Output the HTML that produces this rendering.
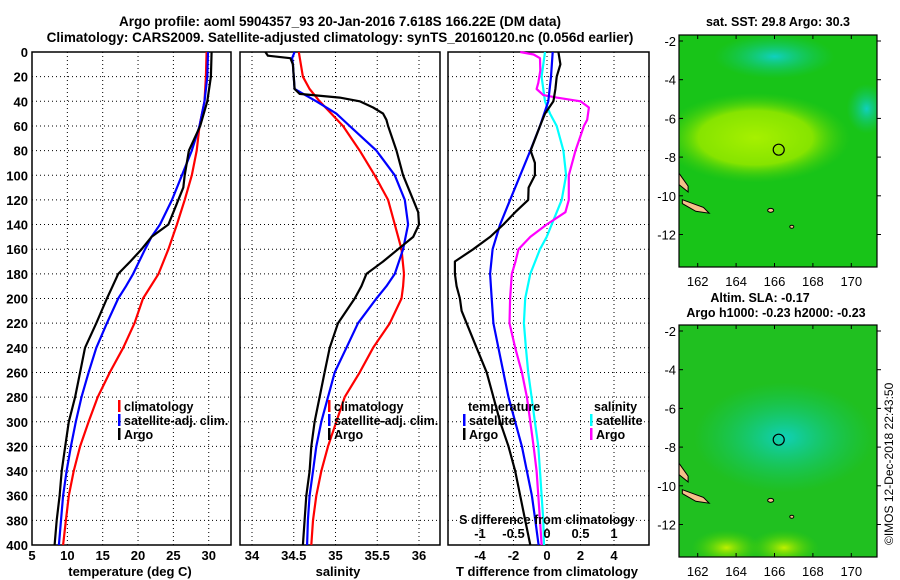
<!DOCTYPE html>
<html><head><meta charset="utf-8"><style>
body{margin:0;background:#fff}
svg{display:block;font-family:"Liberation Sans",Arial,sans-serif;font-weight:bold}
</style></head><body>
<svg id="fig" width="900" height="580" viewBox="0 0 900 580">
<defs>
<radialGradient id="sstBlob" cx="0.5" cy="0.5" r="0.5"><stop offset="0" stop-color="#a6f000"/><stop offset="0.6" stop-color="#86e400"/><stop offset="1" stop-color="#3ccc10" stop-opacity="0"/></radialGradient>
<radialGradient id="sstCyan" cx="0.5" cy="0.5" r="0.5"><stop offset="0" stop-color="#10d0c0"/><stop offset="1" stop-color="#10c870" stop-opacity="0"/></radialGradient>
<radialGradient id="slaCyan" cx="0.5" cy="0.5" r="0.5"><stop offset="0" stop-color="#10d0b8"/><stop offset="1" stop-color="#10c878" stop-opacity="0"/></radialGradient>
<radialGradient id="slaYel" cx="0.5" cy="0.5" r="0.5"><stop offset="0" stop-color="#c0f000"/><stop offset="1" stop-color="#40d000" stop-opacity="0"/></radialGradient>
</defs>
<text x="340" y="26" text-anchor="middle" font-size="13.5">Argo profile: aoml 5904357_93 20-Jan-2016 7.618S 166.22E (DM data)</text>
<text x="340" y="42" text-anchor="middle" font-size="13.5">Climatology: CARS2009. Satellite-adjusted climatology: synTS_20160120.nc (0.056d earlier)</text>
<g id="p1"></g>
<g id="p2"></g>
<g id="p3"></g>
<g id="m1"></g>
<g id="m2"></g>
<text transform="translate(893,545) rotate(-90)" font-size="12" font-weight="normal">©IMOS 12-Dec-2018 22:43:50</text>
</svg>
<script>
const depths=[0,20,40,60,80,100,120,140,160,180,200,220,240,260,280,300,320,340,360,380,400];
const tClim=[29.7,29.6,29.4,28.7,28.3,27.6,26.6,25.5,24.3,22.9,20.7,19.5,17.9,16.0,14.3,13.0,11.8,10.9,10.2,9.8,9.4];
const tSatDepths=[0,20,40,60,80,100,120,140,150,160,180,190,200,220,240,260,280,300,320,340,360,380,400];
const tSat=[29.9,29.8,29.4,28.7,27.6,26.2,24.8,23.1,21.9,21.0,19.3,18.3,17.2,15.6,14.1,13.0,12.0,11.2,10.5,9.9,9.4,9.1,8.8];
const tArgoDepths=[0,20,40,60,80,100,110,120,130,140,150,160,170,180,190,200,220,240,260,280,300,320,340,360,380,400];
const tArgo=[30.4,30.3,29.8,28.8,27.2,26.6,26.4,25.7,25.0,24.3,21.9,20.5,18.9,17.2,16.4,15.6,14.1,12.5,11.8,11.1,10.2,9.7,9.2,8.9,8.5,8.2];
const sClimDepths=[0,20,30,40,60,80,100,120,140,160,180,190,200,220,240,260,280,300,320,340,360,380,400];
const sClim=[34.56,34.61,34.69,34.81,35.09,35.29,35.47,35.63,35.71,35.79,35.82,35.81,35.79,35.65,35.45,35.29,35.11,35.01,34.91,34.83,34.77,34.73,34.71];
const sSatDepths=[0,5,10,30,40,50,60,80,100,120,140,160,180,190,200,220,240,260,280,300,320,340,360,380,400];
const sSat=[34.51,34.48,34.49,34.51,34.77,35.01,35.17,35.49,35.71,35.83,35.87,35.81,35.71,35.61,35.49,35.27,35.13,34.99,34.91,34.83,34.77,34.73,34.69,34.67,34.66];
const sArgoDepths=[0,3,5,10,30,34,37,40,45,50,55,60,80,100,120,130,140,150,160,170,180,190,200,220,240,260,280,300,320,340,360,380,400];
const sArgo=[34.16,34.19,34.46,34.49,34.51,34.57,35.05,35.29,35.45,35.57,35.61,35.63,35.73,35.81,35.93,35.99,36.0,35.93,35.75,35.57,35.37,35.31,35.23,35.03,34.93,34.87,34.81,34.75,34.71,34.69,34.65,34.63,34.61];
const dTArgoDepths=[0,10,20,30,40,50,60,70,80,90,100,110,120,130,140,150,160,170,180,190,200,210,220,240,260,280,300,320,340,360,380,400];
const dTArgo=[0.68,0.8,0.58,0.5,0.38,-0.12,-0.42,-0.7,-0.98,-0.72,-0.72,-1.1,-1.12,-1.9,-2.6,-3.4,-4.4,-5.5,-5.5,-5.4,-5.2,-5.1,-4.8,-4.2,-3.6,-3.2,-2.8,-2.3,-1.9,-1.6,-1.3,-1.0];
const dTSat=[0.34,0.24,0.08,-0.42,-1.0,-1.6,-2.2,-2.8,-3.25,-3.4,-3.3,-3.2,-2.9,-2.6,-2.3,-1.9,-1.5,-1.2,-0.9,-0.7,-0.5];
const dSSatDepths=[0,20,40,50,60,80,100,120,140,150,160,180,200,220,240,260,280,300,320,340,360,380,400];
const dSSat=[-0.03,-0.08,-0.03,0.045,0.145,0.245,0.285,0.22,0.07,-0.005,-0.105,-0.25,-0.325,-0.345,-0.315,-0.28,-0.23,-0.18,-0.13,-0.105,-0.08,-0.055,-0.045];
const dSArgoDepths=[0,2,5,15,25,30,35,37,40,45,55,60,80,100,120,130,140,150,160,170,180,200,220,240,260,280,300,320,340,360,380,400];
const dSArgo=[-0.4,-0.2,-0.105,-0.1,-0.13,-0.155,-0.055,0.145,0.5,0.625,0.6,0.55,0.425,0.325,0.325,0.275,-0.005,-0.25,-0.425,-0.47,-0.525,-0.55,-0.56,-0.475,-0.375,-0.3,-0.25,-0.2,-0.155,-0.13,-0.105,-0.08];
const tTicks=[5,10,15,20,25,30];
const sTicks=[34,34.5,35,35.5,36];
const dTTicks=[-4,-2,0,2,4];
const dSTicks=[-1,-0.5,0,0.5,1];
const depthTicks=[0,20,40,60,80,100,120,140,160,180,200,220,240,260,280,300,320,340,360,380,400];
const lonTicks=[162,164,166,168,170];
const latTicks=[-2,-4,-6,-8,-10,-12];
const argoLon=166.22, argoLat=-7.618;

const NS='http://www.w3.org/2000/svg';
function el(parent,tag,attrs,txt){const e=document.createElementNS(NS,tag);for(const k in attrs)e.setAttribute(k,attrs[k]);if(txt!==undefined)e.textContent=txt;parent.appendChild(e);return e;}
const Y0=52,Y1=545;
const yScale=d=>Y0+(d/400)*(Y1-Y0);
function lin(d0,d1,r0,r1){return v=>r0+(v-d0)/(d1-d0)*(r1-r0);}

function panel(g,x0,x1,xs,xticks,showY){
  // grid
  xticks.forEach(t=>{const x=xs(t);if(x>x0+1&&x<x1-1){const l=el(g,'line',{x1:x,x2:x,y1:Y0,y2:Y1,stroke:'#000','stroke-width':1,'stroke-dasharray':'1,3'});}});
  depthTicks.forEach(d=>{const y=yScale(d);if(d>0&&d<400){const l=el(g,'line',{x1:x0,x2:x1,y1:y,y2:y,stroke:'#000','stroke-width':1,'stroke-dasharray':'1,3'});}
    if(showY){const t=el(g,'text',{x:x0-4,y:y+5,'text-anchor':'end','font-size':13},String(d));}});
  const r=el(g,'rect',{x:x0,y:Y0,width:x1-x0,height:Y1-Y0,fill:'none',stroke:'#000','stroke-width':1.5});
  
}
function line(g,xs,vals,ds,color,name){
  const pts=vals.map((v,i)=>xs(v).toFixed(1)+','+yScale(ds[i]).toFixed(1)).join(' ');
  const p=el(g,'polyline',{points:pts,fill:'none',stroke:color,'stroke-width':2.2,'stroke-linejoin':'round'});
  
}
function legend(g,x,y,color,label){
  const m=el(g,'rect',{x:x,y:y-11,width:2.5,height:12,fill:color});
  
  const t=el(g,'text',{x:x+6,y:y,'font-size':12.5},label);
  
}
function xlabels(g,xs,ticks,y,fmt){ticks.forEach(t=>{const e=el(g,'text',{x:xs(t),y:y,'text-anchor':'middle','font-size':13},fmt?fmt(t):String(t));});}

// Panel 1
const p1=document.getElementById('p1');
const xT=lin(5,33.15,32,231);
panel(p1,32,231,xT,tTicks,true);
line(p1,xT,tClim,depths,'#f00','climatology-temp-line');
line(p1,xT,tSat,tSatDepths,'#00f','satellite-temp-line');
line(p1,xT,tArgo,tArgoDepths,'#000','argo-temp-line');
legend(p1,118,411,'#f00','climatology');legend(p1,118,425,'#00f','satellite-adj. clim.');legend(p1,118,439,'#000','Argo');
xlabels(p1,xT,tTicks,560);
let t=el(p1,'text',{x:130,y:576,'text-anchor':'middle','font-size':13},'temperature (deg C)');

// Panel 2
const p2=document.getElementById('p2');
const xS=lin(34,36,252,419);
panel(p2,240,440,xS,sTicks,false);
line(p2,xS,sClim,sClimDepths,'#f00','climatology-salinity-line');
line(p2,xS,sSat,sSatDepths,'#00f','satellite-salinity-line');
line(p2,xS,sArgo,sArgoDepths,'#000','argo-salinity-line');
legend(p2,328,411,'#f00','climatology');legend(p2,328,425,'#00f','satellite-adj. clim.');legend(p2,328,439,'#000','Argo');
xlabels(p2,xS,sTicks,560);
t=el(p2,'text',{x:338,y:576,'text-anchor':'middle','font-size':13},'salinity');

// Panel 3
const p3=document.getElementById('p3');
const xD=lin(0,4,547,614);
const xDS=v=>xD(v*4);
panel(p3,448,649,xD,dTTicks,false);
line(p3,xDS,dSSat,dSSatDepths,'#0ff','satellite-salinity-diff-line');
line(p3,xDS,dSArgo,dSArgoDepths,'#f0f','argo-salinity-diff-line');
line(p3,xD,dTSat,depths,'#00f','satellite-temp-diff-line');
line(p3,xD,dTArgo,dTArgoDepths,'#000','argo-temp-diff-line');
t=el(p3,'text',{x:468,y:411,'font-size':12.5},'temperature');
t=el(p3,'text',{x:594,y:411,'font-size':12.5},'salinity');
legend(p3,463,425,'#00f','satellite');legend(p3,463,439,'#000','Argo');
legend(p3,590,425,'#0ff','satellite');legend(p3,590,439,'#f0f','Argo');
t=el(p3,'text',{x:547,y:524,'text-anchor':'middle','font-size':12.5},'S difference from climatology');
xlabels(p3,xDS,dSTicks,538);
xlabels(p3,xD,dTTicks,560);
t=el(p3,'text',{x:547,y:576,'text-anchor':'middle','font-size':13},'T difference from climatology');

// Maps
function map(g,top,bottom,kind){
  const x0=679,x1=877;
  const lonS=lin(162,170,697.7,851.3);
  const latS=lin(-2,-12,top+6,top+6+193.5);
  const cp=el(g,'clipPath',{id:'clip'+kind});el(cp,'rect',{x:x0,y:top,width:x1-x0,height:bottom-top});
  const inner=el(g,'g',{'clip-path':'url(#clip'+kind+')'});
  if(kind==='sst'){
    el(inner,'rect',{x:x0,y:top,width:x1-x0,height:bottom-top,fill:'#18c418'});
    el(inner,'ellipse',{cx:lonS(165),cy:latS(-7),rx:95,ry:45,fill:'url(#sstBlob)'});
    el(inner,'ellipse',{cx:lonS(166),cy:latS(-2.8),rx:60,ry:22,fill:'url(#sstCyan)'});
    el(inner,'ellipse',{cx:lonS(170.8),cy:latS(-5.5),rx:20,ry:25,fill:'url(#sstCyan)'});
  } else {
    el(inner,'rect',{x:x0,y:top,width:x1-x0,height:bottom-top,fill:'#20c020'});
    el(inner,'ellipse',{cx:lonS(166.5),cy:latS(-7.5),rx:90,ry:55,fill:'url(#slaCyan)'});
    el(inner,'ellipse',{cx:lonS(163.5),cy:latS(-13.2),rx:35,ry:18,fill:'url(#slaYel)'});
    el(inner,'ellipse',{cx:lonS(166.5),cy:latS(-13.2),rx:35,ry:18,fill:'url(#slaYel)'});
  }
  // islands
  el(inner,'path',{d:`M${lonS(161.2)},${latS(-10.2)} L${lonS(162.3)},${latS(-10.6)} L${lonS(162.6)},${latS(-10.9)} L${lonS(161.9)},${latS(-10.8)} L${lonS(161.2)},${latS(-10.4)}Z`,fill:'#f5c08a',stroke:'#000','stroke-width':1});
  el(inner,'path',{d:`M${lonS(161)},${latS(-8.8)} L${lonS(161.5)},${latS(-9.5)} L${lonS(161.5)},${latS(-9.8)} L${lonS(161)},${latS(-9.4)}Z`,fill:'#f5c08a',stroke:'#000','stroke-width':1});
  el(inner,'ellipse',{cx:lonS(165.8),cy:latS(-10.75),rx:3,ry:2,fill:'#f5c08a',stroke:'#000'});
  el(inner,'ellipse',{cx:lonS(166.9),cy:latS(-11.6),rx:2,ry:1.5,fill:'#f5c08a',stroke:'#000'});
  const c=el(g,'circle',{cx:lonS(argoLon),cy:latS(argoLat),r:5.5,fill:'none',stroke:'#000','stroke-width':1.2});
  
  const f=el(g,'rect',{x:x0,y:top,width:x1-x0,height:bottom-top,fill:'none',stroke:'#000','stroke-width':1.2});
  
  lonTicks.forEach(l=>{const x=lonS(l);el(g,'line',{x1:x,x2:x,y1:top,y2:top+4,stroke:'#000'});el(g,'line',{x1:x,x2:x,y1:bottom,y2:bottom-4,stroke:'#000'});
    const e=el(g,'text',{x:x,y:bottom+19,'text-anchor':'middle','font-size':13,'font-weight':'normal'},String(l));});
  latTicks.forEach(l=>{const y=latS(l);el(g,'line',{x1:x0,x2:x0+4,y1:y,y2:y,stroke:'#000'});el(g,'line',{x1:x1,x2:x1+4,y1:y,y2:y,stroke:'#000'});
    const e=el(g,'text',{x:676,y:y+5,'text-anchor':'end','font-size':13,'font-weight':'normal'},String(l));});
}
const m1=document.getElementById('m1');
map(m1,35,267,'sst');
t=el(m1,'text',{x:778,y:26,'text-anchor':'middle','font-size':12.5},'sat. SST: 29.8 Argo: 30.3');
const m2=document.getElementById('m2');
map(m2,325,557,'sla');
t=el(m2,'text',{x:760,y:302,'text-anchor':'middle','font-size':12.5},'Altim. SLA: -0.17');
t=el(m2,'text',{x:776,y:317,'text-anchor':'middle','font-size':12.5},'Argo h1000: -0.23 h2000: -0.23');
</script>
</body></html>
